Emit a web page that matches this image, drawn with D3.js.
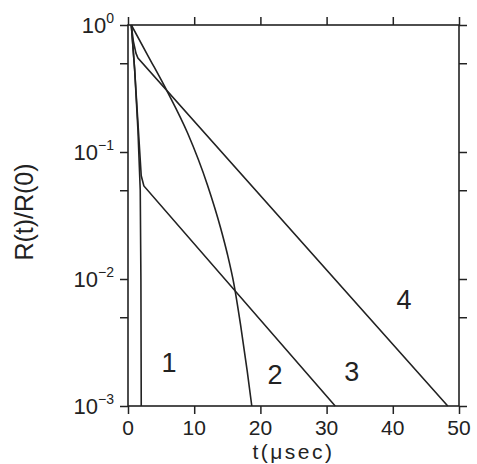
<!DOCTYPE html>
<html>
<head>
<meta charset="utf-8">
<script src="https://cdn.jsdelivr.net/npm/d3@7"></script>
<style>
  body { margin: 0; background: #fff; }
  svg { display: block; }
  text { font-family: "Liberation Sans", Arial, sans-serif; fill: #222; }
</style>
</head>
<body>
<div id="chart"></div>
<script>
var width = 477, height = 464;
var margin = { top: 25, right: 18, bottom: 58, left: 128 };

// axis ticks
var xTicks = [0, 10, 20, 30, 40, 50];
var yMajor = [1, 0.1, 0.01, 0.001];
var yMinor = [0.5, 0.05, 0.005];
var yExp = ['0', '\u22121', '\u22122', '\u22123'];

// curves: t in microseconds, R(t)/R(0)
var t1 = [0.5, 1.0, 1.5, 1.85, 1.95, 2.0];
var r1 = [1, 0.45, 0.15, 0.05, 0.01, 0.001];

var t2 = [0.5, 3, 6, 9, 12, 14, 15, 16, 17, 18, 18.7];
var r2 = [1, 0.575, 0.295, 0.141, 0.055, 0.0251, 0.0158, 0.00912, 0.00437, 0.0019, 0.001];

var t3 = [0.5, 1.0, 1.5, 2.0, 2.4, 31.3];
var r3 = [1, 0.45, 0.17, 0.065, 0.054, 0.001];

var t4 = [0.5, 0.8, 1.2, 1.5, 48.3];
var r4 = [1, 0.75, 0.6, 0.55, 0.001];

// curve number labels (anchor in data units)
var labelText = ['1', '2', '3', '4'];
var labelT = [6.2, 22.2, 33.8, 41.7];
var labelR = [0.00224, 0.00178, 0.0019, 0.0069];

var series = [
  { t: t1, r: r1, smooth: false },
  { t: t2, r: r2, smooth: true },
  { t: t3, r: r3, smooth: false },
  { t: t4, r: r4, smooth: false }
];

var svg = d3.select('#chart').append('svg')
    .attr('width', width)
    .attr('height', height);

var x = d3.scaleLinear().domain([0, 50]).range([margin.left, width - margin.right]);
var y = d3.scaleLog().domain([0.001, 1]).range([height - margin.bottom, margin.top]);

var ink = '#222';

// ticks on all four sides, pointing outward
var allY = yMajor.concat(yMinor);
svg.append('g')
    .attr('transform', 'translate(0,' + y(0.001) + ')')
    .call(d3.axisBottom(x).tickValues(xTicks).tickSize(8).tickSizeOuter(0).tickFormat(''));
svg.append('g')
    .attr('transform', 'translate(0,' + y(1) + ')')
    .call(d3.axisTop(x).tickValues(xTicks).tickSize(8).tickSizeOuter(0).tickFormat(''));
svg.append('g')
    .attr('transform', 'translate(' + x(0) + ',0)')
    .call(d3.axisLeft(y).tickValues(allY).tickSize(8).tickSizeOuter(0).tickFormat(''));
svg.append('g')
    .attr('transform', 'translate(' + x(50) + ',0)')
    .call(d3.axisRight(y).tickValues(allY).tickSize(8).tickSizeOuter(0).tickFormat(''));

svg.selectAll('.domain').remove();
svg.selectAll('.tick line').attr('stroke', ink).attr('stroke-width', 1.5);

svg.append('rect')
    .attr('x', x(0)).attr('y', y(1))
    .attr('width', x(50) - x(0)).attr('height', y(0.001) - y(1))
    .attr('fill', 'none').attr('stroke', ink).attr('stroke-width', 1.6);

// x tick labels
svg.append('g').selectAll('text')
    .data(xTicks).enter().append('text')
    .attr('x', (d) => x(d))
    .attr('y', y(0.001) + 29)
    .attr('text-anchor', 'middle')
    .style('font-size', '21px')
    .text((d) => d);

// y tick labels 10^n
var yl = svg.append('g').selectAll('text')
    .data(yMajor).enter().append('text')
    .attr('x', x(0) - 14)
    .attr('y', (d) => y(d) + 8)
    .attr('text-anchor', 'end')
    .style('font-size', '22px');
yl.append('tspan').text('10');
yl.append('tspan')
    .attr('dy', -10)
    .style('font-size', '14px')
    .text((d, i) => yExp[i]);

// axis titles
svg.append('text')
    .attr('x', (x(0) + x(50)) / 2)
    .attr('y', 459)
    .attr('text-anchor', 'middle')
    .style('font-size', '21px')
    .style('letter-spacing', '2.5px')
    .text('t(\u03bcsec)');

svg.append('text')
    .attr('transform', 'translate(33,' + 212 + ') rotate(-90)')
    .attr('text-anchor', 'middle')
    .style('font-size', '25px')
    .text('R(t)/R(0)');

// curves
var line = d3.line()
    .x((d) => x(d[0]))
    .y((d) => y(d[1]));

series.forEach(function (s) {
    var pts = s.t.map((t, i) => [t, s.r[i]]);
    svg.append('path')
        .attr('d', line.curve(s.smooth ? d3.curveMonotoneX : d3.curveLinear)(pts))
        .attr('fill', 'none')
        .attr('stroke', ink)
        .attr('stroke-width', 1.6);
});

// curve numbers
svg.append('g').selectAll('text')
    .data(labelText).enter().append('text')
    .attr('x', (d, i) => x(labelT[i]))
    .attr('y', (d, i) => y(labelR[i]) + 10)
    .attr('text-anchor', 'middle')
    .style('font-size', '27px')
    .text((d) => d);
</script>
</body>
</html>
